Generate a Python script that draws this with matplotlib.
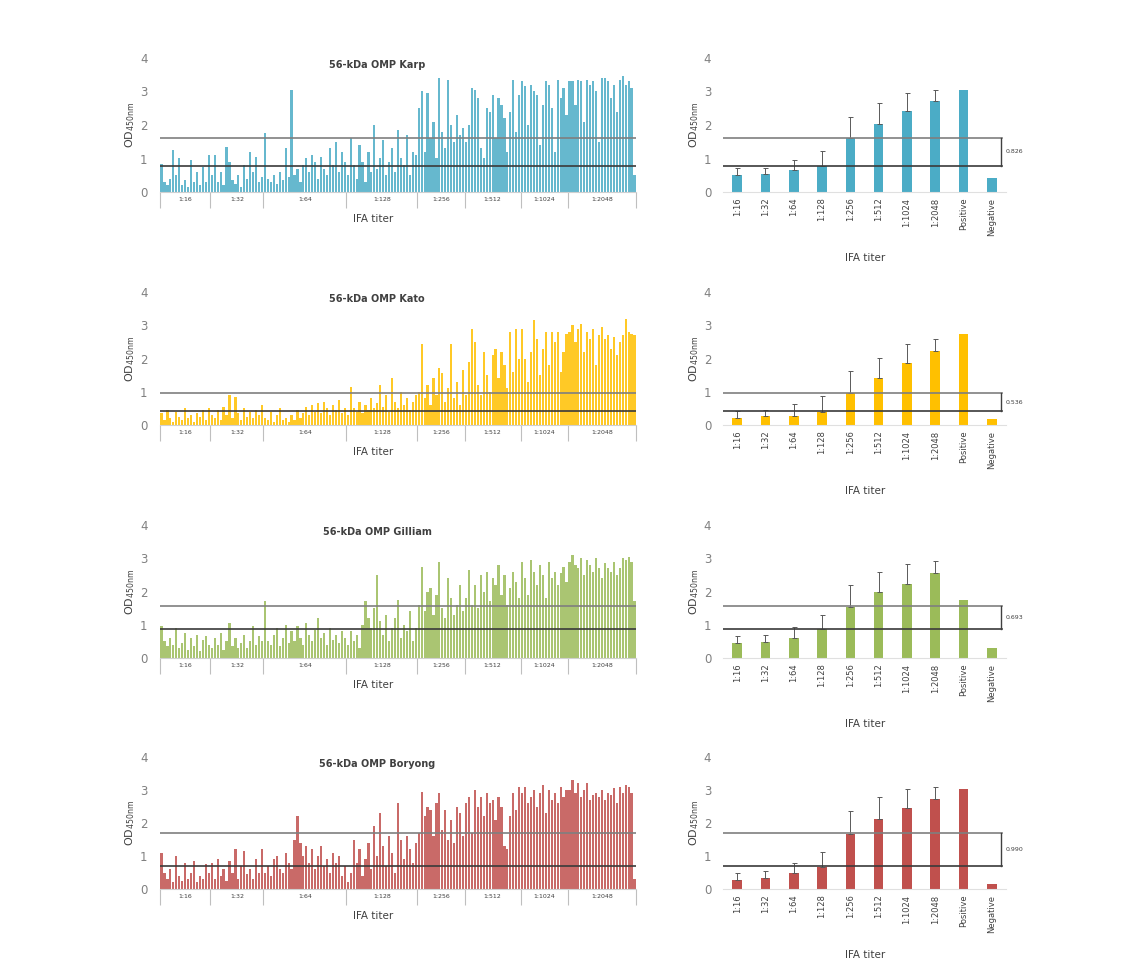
import numpy as np
import matplotlib
matplotlib.use("Agg")
import matplotlib.pyplot as plt

plt.rcParams["font.family"] = "DejaVu Sans"

W, H = 1136, 971

#=====================#
groups = ["1:16", "1:32", "1:64", "1:128", "1:256", "1:512", "1:1024", "1:2048"]
bar_cats = groups + ["Positive", "Negative"]
strains = ["Karp", "Kato", "Gilliam", "Boryong"]
colors = ["#4BACC6", "#FFC000", "#9BBB59", "#C0504D"]

# individual sera OD values, one list per IFA titer group
karp_samples = [
    [0.85, 0.3, 0.2, 0.4, 1.25, 0.5, 1.0, 0.2, 0.35, 0.15, 0.95, 0.3, 0.6, 0.2, 0.75, 0.3, 1.1],
    [0.5, 1.1, 0.3, 0.6, 0.2, 1.35, 0.9, 0.35, 0.25, 0.5, 0.15, 0.8, 0.4, 1.2, 0.6, 1.05, 0.3, 0.45],
    [1.75, 0.4, 0.3, 0.5, 0.25, 0.6, 0.35, 1.3, 0.45, 3.05, 0.5, 0.7, 0.3, 0.8, 1.0, 0.6, 1.1, 0.9, 0.4, 1.05,
     0.7, 0.5, 1.3, 0.8, 1.5, 0.6, 1.2, 0.9],
    [0.5, 1.6, 0.8, 0.4, 1.4, 0.9, 0.3, 1.2, 0.6, 2.0, 0.7, 1.0, 1.55, 0.5, 0.9, 1.3, 0.6, 1.85, 1.0, 0.8,
     1.7, 0.5, 1.2, 1.1],
    [2.5, 3.0, 1.2, 2.95, 1.6, 2.1, 1.0, 3.4, 1.8, 1.3, 3.35, 2.0, 1.5, 2.3, 1.7, 1.9],
    [1.5, 2.0, 3.1, 3.05, 2.8, 1.3, 1.0, 2.5, 2.4, 2.9, 1.6, 2.8, 2.6, 2.2, 1.2, 2.4, 3.35, 1.8, 2.9],
    [3.3, 3.15, 2.0, 3.2, 3.0, 2.9, 1.4, 2.6, 3.3, 3.2, 2.5, 1.2, 3.35, 2.8, 3.1, 2.3],
    [3.3, 3.3, 2.6, 3.35, 3.3, 2.1, 3.35, 3.2, 3.3, 3.0, 1.5, 3.4, 3.4, 3.3, 2.8, 3.2, 2.4, 3.35, 3.45, 3.2,
     3.3, 3.1, 0.5],
]
kato_samples = [
    [0.35, 0.15, 0.45, 0.2, 0.1, 0.4, 0.25, 0.15, 0.5, 0.2, 0.3, 0.1, 0.35, 0.25, 0.45, 0.15, 0.5],
    [0.3, 0.2, 0.45, 0.15, 0.55, 0.3, 0.9, 0.2, 0.85, 0.35, 0.15, 0.5, 0.25, 0.4, 0.2, 0.45, 0.3, 0.6],
    [0.2, 0.15, 0.4, 0.1, 0.3, 0.5, 0.15, 0.2, 0.1, 0.3, 0.15, 0.45, 0.2, 0.35, 0.55, 0.3, 0.6, 0.4, 0.65, 0.35,
     0.7, 0.5, 0.3, 0.6, 0.45, 0.75, 0.35, 0.5],
    [0.3, 1.15, 0.5, 0.4, 0.7, 0.35, 0.6, 0.45, 0.8, 0.5, 0.65, 1.2, 0.55, 0.9, 0.4, 1.4, 0.7, 0.5, 1.0, 0.6,
     0.8, 0.45, 0.7, 0.9],
    [1.0, 2.45, 0.8, 1.2, 0.6, 1.4, 0.9, 1.7, 1.55, 0.7, 1.1, 2.45, 0.8, 1.3, 0.6, 1.65],
    [0.9, 1.9, 2.9, 2.5, 1.2, 0.9, 2.2, 1.5, 1.0, 2.1, 2.3, 1.4, 2.2, 1.8, 1.1, 2.8, 1.6, 2.9, 2.0],
    [2.9, 2.0, 1.3, 2.2, 3.15, 2.6, 1.5, 2.3, 2.8, 1.8, 2.8, 2.5, 2.8, 1.6, 2.2, 2.75],
    [2.8, 3.0, 2.5, 2.9, 3.05, 2.2, 2.8, 2.6, 2.9, 1.8, 2.7, 2.95, 2.6, 2.7, 2.3, 2.65, 2.1, 2.5, 2.7, 3.2,
     2.8, 2.75, 2.7],
]
gilliam_samples = [
    [0.95, 0.5, 0.35, 0.6, 0.4, 0.9, 0.3, 0.45, 0.75, 0.25, 0.6, 0.35, 0.7, 0.2, 0.55, 0.65, 0.4],
    [0.3, 0.6, 0.4, 0.75, 0.25, 0.5, 1.05, 0.35, 0.6, 0.3, 0.45, 0.7, 0.3, 0.5, 0.95, 0.4, 0.65, 0.5],
    [1.7, 0.5, 0.4, 0.7, 0.9, 0.35, 0.6, 1.0, 0.45, 0.8, 0.5, 0.95, 0.6, 0.4, 1.05, 0.7, 0.5, 0.85, 1.2, 0.6,
     0.75, 0.4, 0.9, 0.55, 0.7, 0.45, 0.8, 0.6],
    [0.4, 0.8, 0.5, 0.7, 0.3, 1.0, 1.7, 1.2, 0.9, 1.5, 2.5, 1.1, 0.7, 1.3, 0.5, 0.9, 1.2, 1.75, 0.6, 1.0,
     0.8, 1.4, 0.5, 0.9],
    [1.6, 2.75, 1.4, 2.0, 2.1, 1.3, 1.9, 2.9, 1.5, 1.2, 2.4, 1.8, 1.3, 1.6, 2.2, 1.4],
    [1.8, 2.65, 1.6, 2.2, 1.5, 2.5, 2.0, 2.6, 1.7, 2.4, 2.2, 2.8, 1.9, 2.5, 1.6, 2.1, 2.6, 2.3, 1.8],
    [2.9, 2.4, 1.9, 2.95, 2.6, 2.2, 2.8, 2.5, 1.8, 2.9, 2.4, 2.6, 2.2, 2.55, 2.75, 2.3],
    [2.9, 3.1, 2.8, 2.7, 3.0, 2.5, 2.95, 2.8, 2.6, 3.0, 2.7, 2.4, 2.85, 2.7, 2.6, 2.9, 2.5, 2.7, 3.0, 2.95,
     3.05, 2.9, 1.7],
]
boryong_samples = [
    [1.1, 0.5, 0.3, 0.6, 0.2, 1.0, 0.4, 0.25, 0.8, 0.3, 0.5, 0.85, 0.2, 0.4, 0.3, 0.75, 0.5],
    [0.8, 0.3, 0.9, 0.4, 0.6, 0.25, 0.85, 0.5, 1.2, 0.3, 0.7, 1.15, 0.45, 0.6, 0.3, 0.9, 0.5, 1.2],
    [0.5, 0.7, 0.4, 0.9, 1.0, 0.6, 0.5, 1.1, 0.8, 0.6, 1.5, 2.2, 1.4, 1.0, 1.3, 0.8, 1.2, 0.6, 1.0, 1.3,
     0.7, 0.9, 0.5, 1.1, 0.8, 1.0, 0.4, 0.7],
    [0.2, 0.5, 1.5, 0.8, 1.2, 0.4, 0.9, 1.4, 0.6, 1.9, 1.0, 2.3, 1.3, 0.7, 1.6, 1.1, 0.5, 2.6, 1.5, 0.9,
     1.6, 1.2, 0.8, 1.4],
    [1.7, 2.95, 2.2, 2.5, 2.4, 1.6, 2.6, 2.9, 1.8, 2.4, 1.5, 2.1, 1.4, 2.5, 2.3, 1.6],
    [2.6, 2.8, 1.7, 3.0, 2.5, 2.8, 2.2, 2.9, 2.6, 2.7, 2.1, 2.8, 2.5, 1.3, 1.2, 2.2, 2.9, 2.4, 3.1],
    [2.9, 3.1, 2.6, 2.8, 3.0, 2.5, 2.9, 3.15, 2.3, 3.0, 2.7, 2.9, 2.6, 3.1, 2.8, 3.0],
    [3.0, 3.3, 2.9, 3.2, 2.8, 3.0, 3.2, 2.7, 2.85, 2.9, 2.8, 3.0, 2.7, 2.9, 2.85, 3.05, 2.6, 3.1, 2.9, 3.15,
     3.1, 2.9, 0.3],
]

# group means (+ positive / negative control) and upper SD
karp_mean = [0.52, 0.54, 0.65, 0.78, 1.62, 2.03, 2.41, 2.71, 3.05, 0.43]
karp_sd = [0.20, 0.19, 0.31, 0.44, 0.63, 0.62, 0.56, 0.34, 0, 0]
kato_mean = [0.20, 0.26, 0.28, 0.40, 0.95, 1.41, 1.86, 2.22, 2.74, 0.17]
kato_sd = [0.21, 0.20, 0.34, 0.46, 0.66, 0.61, 0.59, 0.36, 0, 0]
gilliam_mean = [0.44, 0.47, 0.59, 0.87, 1.54, 1.98, 2.22, 2.56, 1.74, 0.29]
gilliam_sd = [0.21, 0.22, 0.34, 0.43, 0.66, 0.62, 0.60, 0.36, 0, 0]
boryong_mean = [0.28, 0.33, 0.48, 0.67, 1.68, 2.13, 2.46, 2.73, 3.03, 0.14]
boryong_sd = [0.20, 0.21, 0.30, 0.46, 0.67, 0.65, 0.57, 0.35, 0, 0]

# cut-off lines (lower, upper) and the gap label
cutoff_low = [0.79, 0.42, 0.86, 0.70]
cutoff_high = [1.616, 0.956, 1.553, 1.69]
gap_label = ["0.826", "0.536", "0.693", "0.990"]
#=====================#

samples = [karp_samples, kato_samples, gilliam_samples, boryong_samples]
means = [karp_mean, kato_mean, gilliam_mean, boryong_mean]
sds = [karp_sd, kato_sd, gilliam_sd, boryong_sd]

# pixel rows: (y of 0, y of 4)
rows = [(192, 58), (425, 292), (658, 525), (889, 757)]

fig = plt.figure(figsize=(W / 100, H / 100), dpi=100)


def box(x0, x1, ytop, ybot):
    return [x0 / W, 1 - ybot / H, (x1 - x0) / W, (ybot - ytop) / H]


def ftext(x, y, s, **kw):
    fig.text(x / W, 1 - y / H, s, **kw)


grey = "#808080"
for i, name in enumerate(strains):
    y0, y4 = rows[i]
    col = colors[i]

    # ---- left: every serum sample ----
    ax = fig.add_axes(box(160, 636, y4, y0))
    vals = np.concatenate(samples[i])
    sizes = [len(g) for g in samples[i]]
    x = np.arange(len(vals))
    ax.bar(x, vals, width=0.75, color=col, alpha=0.85, linewidth=0)
    bounds = np.concatenate([[0], np.cumsum(sizes)]) - 0.5
    centers = (bounds[:-1] + bounds[1:]) / 2
    ax.set_xlim(bounds[0], bounds[-1])
    ax.set_ylim(0, 4)
    ax.axhline(cutoff_high[i], color="#7f7f7f", lw=1.2)
    ax.axhline(cutoff_low[i], color="#3a3a3a", lw=1.2)
    ax.set_xticks(bounds)
    ax.set_xticklabels([])
    ax.set_xticks(centers, minor=True)
    ax.set_xticklabels(groups, minor=True, fontsize=4.5, color="#404040")
    ax.tick_params(axis="x", which="major", length=11.5, color="#bfbfbf", width=0.8)
    ax.tick_params(axis="x", which="minor", length=0, pad=3.5)
    ax.set_yticks([0, 1, 2, 3, 4])
    ax.tick_params(axis="y", length=0, pad=9, labelsize=8.5, labelcolor=grey)
    for s in ["top", "right", "left"]:
        ax.spines[s].set_visible(False)
    ax.spines["bottom"].set_color("#d0d0d0")
    ftext(377, y4 + 7, "56-kDa OMP " + name, fontsize=7, fontweight="bold",
          color="#404040", ha="center", va="center")
    ftext(373, y0 + 27, "IFA titer", fontsize=7.5, color="#404040", ha="center", va="center")
    ftext(130, (y0 + y4) / 2, r"OD$_{\mathrm{450nm}}$", fontsize=8, color="#404040",
          rotation=90, ha="center", va="center")

    # ---- right: group means ----
    bx = fig.add_axes(box(723, 1006, y4, y0))
    xc = np.arange(len(bar_cats))
    bx.bar(xc, means[i], width=0.34, color=col, linewidth=0)
    bx.errorbar(xc[:8], means[i][:8], yerr=[np.zeros(8), sds[i][:8]], fmt="none",
                ecolor="#595959", elinewidth=0.7, capsize=1.8, capthick=0.7)
    bx.set_xlim(-0.5, len(bar_cats) - 0.5)
    bx.set_ylim(0, 4)
    bx.axhline(cutoff_high[i], color="#7f7f7f", lw=1.2, xmax=0.985)
    bx.axhline(cutoff_low[i], color="#3a3a3a", lw=1.2, xmax=0.985)
    xb = 9.32
    bx.plot([xb, xb], [cutoff_low[i], cutoff_high[i]], color="#404040", lw=1.0, clip_on=False)
    bx.text(9.8, (cutoff_low[i] + cutoff_high[i]) / 2, gap_label[i], fontsize=4.5,
            color="#404040", ha="center", va="center", clip_on=False)
    bx.set_xticks(xc)
    bx.set_xticklabels(bar_cats, rotation=90, fontsize=6, color="#404040")
    bx.tick_params(axis="x", length=0, pad=4)
    bx.set_yticks([0, 1, 2, 3, 4])
    bx.tick_params(axis="y", length=0, pad=8.5, labelsize=8.5, labelcolor=grey)
    for s in ["top", "right", "left"]:
        bx.spines[s].set_visible(False)
    bx.spines["bottom"].set_color("#e0e0e0")
    ftext(865, y0 + 66, "IFA titer", fontsize=7.5, color="#404040", ha="center", va="center")
    ftext(694, (y0 + y4) / 2, r"OD$_{\mathrm{450nm}}$", fontsize=8, color="#404040",
          rotation=90, ha="center", va="center")

fig.savefig("out.png", dpi=100)
